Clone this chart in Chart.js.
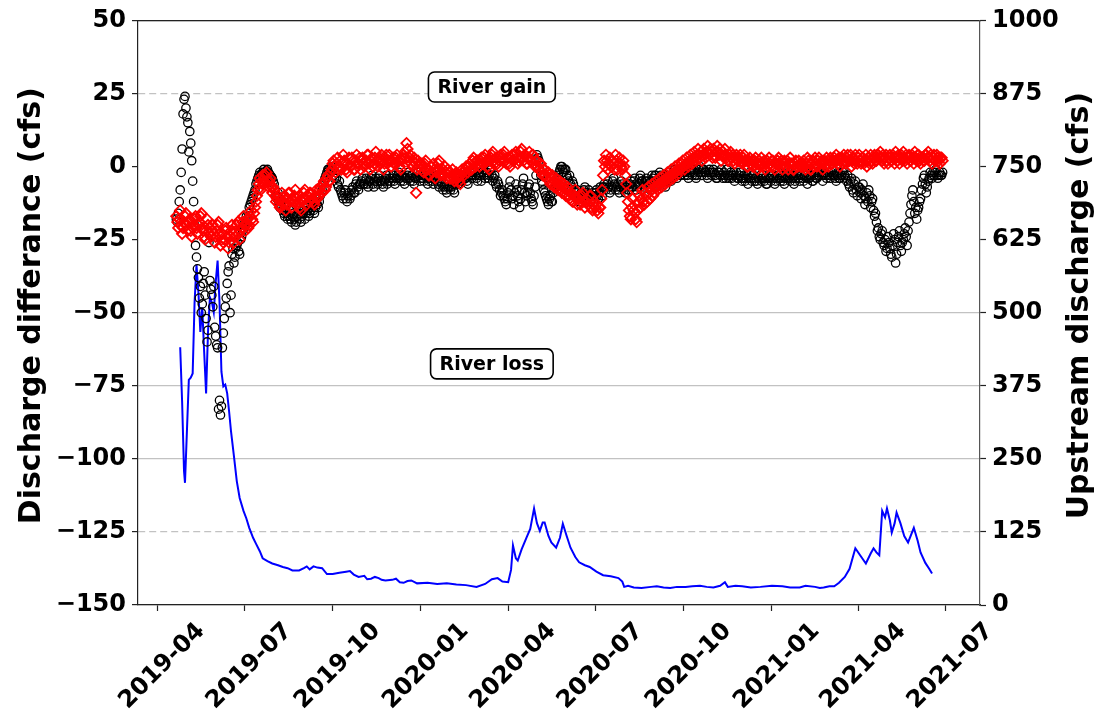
<!DOCTYPE html>
<html>
<head>
<meta charset="utf-8">
<script src="https://cdn.jsdelivr.net/npm/chart.js@4.4.1/dist/chart.umd.min.js"></script>
<style>
  html, body { margin: 0; padding: 0; background: #ffffff; }
  #wrap { width: 1099px; height: 712px; }
  canvas { display: block; }
</style>
</head>
<body>
<div id="wrap"><canvas id="c" width="1099" height="712"></canvas></div>
<script>
// Daily discharge difference (cfs), starting at markerStart
const markerStart = '2019-04-21';
const markerStepDays = 1;

// Discharge difference, black circles
const dischargeDiffBlack = [
  -18,-19,-16,-12,-8,-2,6,18,23,24,20,17,15,5,12,8,2,-5,-12,-20,
  -27,-31,-35,-38,-45,-41,-50,-47,-40,-36,-44,-52,-60,-56,-26,-39,-42,-44,-48,-41,
  -55,-58,-61,-62,-83,-80,-85,-82,-62,-57,-52,-48,-45,-40,-36,-34,-50,-44,-30,-28,
  -33,-31,-28,-27,-26,-29,-30,-25,-24,-22,-20,-21,-19,-17,-18,-16,-14,-13,-12,-11,
  -10,-9,-8,-6,-5,-4,-3,-2,-3,-2.5,-2,-1,-2,-2,-1.5,-1,-2,-2.5,-3,-3.5,
  -4,-5,
  -6,-8,-10,-11,-9,-12,-14,-13,-12,-15,-16,-17,-14,-16,-18,-17,-15,-18,
  -19,-17,-16,-18,-20,-19,-17,-16,-15,-18,-19,-17,-16,-15,-18,-16,-14,-15,-17,-16,
  -15,-14,-13,-15,-16,-14,-12,-13,-14,-12,-10,-9,-8,-6,-5,-4,-3,-2,-1,-1,
  -2,-1,0,-1,
  -3,-4,-2,-4,-6,-7,-5,-8,-9,-10,-11,-9,-8,-11,-12,-10,-9,-11,-10,-8,-7,-9,-9,-6,-5,-7,-8,-6,-6,-5,-4,-6,
  -6,-5,-4,-6,-7,-5,-5,-4,-3,-6,-7,-5,-4,-5,-6,-4,-3,-5,-5,-6,-7,-5,-4,-3,-6,-5,-3,-4,-5,-4,
  -3,-5,-6,-4,-4,-3,-2,-4,-5,-3,-3,-5,-6,-4,-4,-3,-2,-4,-5,-3,-3,-5,-6,-4,-4,-2,-2,-3,-5,-4,
  -3,-4,-5,-3,-2,-4,-6,-5,-4,-3,-3,-5,-6,-4,-2,-3,-5,-6,-7,-5,-4,-6,-8,-7,-6,-8,-9,-7,-5,-7,
  -8,-7,-6,-8,-9,-6,-4,-5,-6,-4,-3,-5,-5,-3,-2,-4,-4,-5,-6,-3,-2,-3,-4,-2,-1,-2,-3,-4,-5,-3,
  -2,-3,-5,-2,-1,-3,-4,-2,-2,-4,-3,-1,-1,-3,-5,-4,-3,-6,-7,-5,-6,-8,-10,-9,-8,-10,-11,-12,-13,-11,
  -9,-7,-5,-8,-11,-10,-13,-9,-6,-8,-10,-12,-14,-11,-8,-6,-4,-9,-12,-10,-9,-7,-6,-9,-11,-12,-13,-10,-7,-3,
  4,3,2,-1,-3,-5,-6,-8,-9,-10,-11,-12,-13,-11,-10,-12,-12,-9,-8,-7,-6,-4,-3,-2,-1,0,0,-1,-2,-1,-1,-3,
  -4,-5,-3,-6,-7,-5,-6,-8,-10,-9,-8,-11,-12,-10,-9,-11,-11,-8,-7,-9,-10,-9,-8,-10,-12,-11,-9,-10,-11,-9,
  -8,-10,-11,-9,-7,-8,-10,-7,-6,-7,-8,-6,-5,-7,-9,-8,-7,-5,-4,-6,-8,-7,-6,-8,-9,-7,-5,-6,-7,-8,
  -9,-7,-6,-8,-8,-6,-5,-7,-7,-5,-4,-6,-8,-7,-6,-4,-3,-5,-5,-6,-7,-5,-4,-5,-6,-7,-8,-5,-3,-4,-5,-3,
  -3,-5,-6,-4,-2,-3,-5,-4,-4,-6,-7,-5,-3,-4,-2,-4,-5,-3,-3,-2,-1,-3,-4,-2,-2,-3,-3,-1,-1,-2,
  -3,-2,-1,-3,-4,-2,-2,-1,-3,-2,-1,-3,-4,-3,-2,-1,0,-2,-3,-1,-1,-2,-2,-3,-4,-2,-1,-2,-3,-2,
  -1,-2,-3,-4,-4,-2,-2,-3,-1,-3,-4,-2,-3,-4,-1,-3,-4,-3,-2,-4,-3,-2,-5,-3,-2,-4,-4,-3,-2,-4,
  -5,-4,-3,-5,-4,-3,-6,-4,-2,-4,-5,-3,-3,-5,-4,-5,-6,-4,-2,-3,-5,-4,-3,-5,-4,-6,-6,-4,-3,-4,-5,-3,
  -3,-4,-6,-5,-4,-3,-2,-4,-5,-4,-3,-5,-6,-4,-4,-3,-2,-4,-5,-3,-3,-4,-6,-5,-4,-3,-2,-4,-5,-3,
  -3,-4,-5,-3,-2,-4,-6,-4,-4,-3,-3,-5,-5,-3,-2,-4,-4,-2,-3,-2,-1,-3,-5,-3,-2,-3,-4,-3,
  -2,-3,-4,-2,-1,-3,-3,-4,-5,-3,-2,-4,-4,-3,-3,-2,-1,-3,-4,-5,-3,-6,-7,-5,-4,-8,-9,-6,-5,-8,-10,-7,
  -7,-9,-11,-8,-6,-10,-13,-11,-9,-12,-8,-10,-14,-12,-11,-15,-17,-16,-19,-22,-21,-24,-25,-23,-22,-26,-27,-25,-29,-28,
  -24,-26,-28,-30,-31,-27,-23,-25,-33,-30,-26,-24,-22,-27,-29,-26,-25,-23,-21,-24,-27,-22,-19,-16,-13,-10,-8,-12,-16,-14,-18,-15,
  -14,-12,-11,-8,-6,-4,-3,-6,-9,-7,-5,-4,-2,-3,-4,-2,-3,-2,-1,-3,-4,-3,-2,-3,-3,-2
];

// Discharge difference, red diamonds
const dischargeDiffRed = [
  -17,-19,-21,-18,-15,-20,-23,-21,-19,-17,-16,-20,-22,-19,-18,-22,-24,-21,-20,-18,
  -17,-21,-23,-20,-19,-17,-16,-21,-22,-24,-25,-22,-18,-20,-21,-23,-24,-22,-20,-23,
  -26,-24,-22,-20,-19,-23,-27,-25,-23,-26,-25,-22,-21,-24,-28,-26,-24,-22,-20,-23,
  -26,-24,-22,-20,-19,-23,-25,-22,-21,-19,-17,-20,
  -22,-20,-18,-21,-20,-17,-15,-18,-19,-16,-14,-12,-10,-8,-6,-4,-8,-5,-3,-6,-5,-3,-2,-5,-7,-5,-4,-7,-9,-7,
  -8,-10,-12,-11,-10,-13,-14,-11,-9,-12,-13,-10,-15,-13,-11,-9,-9,-12,-14,-11,
  -12,-10,-8,-11,-13,-12,-10,-14,-15,-12,-11,-9,-8,-11,-13,-10,-12,-9,-9,-11,
  -11,-12,-13,-10,-8,-11,-10,-8,-7,-9,-9,-6,-5,-8,-7,-4,-3,-5,-5,-2,
  -1,1,2,0,-2,1,3,-1,0,2,-1,1,4,2,1,-1,-2,1,3,0,0,3,2,-1,-1,2,4,1,1,3,-1,2,
  3,1,0,2,2,4,4,1,-1,2,3,0,1,3,5,2,0,3,2,1,4,2,-1,1,3,4,1,2,4,2,
  0,2,3,1,1,3,4,2,2,0,-1,2,3,4,5,3,8,6,2,3,4,1,0,2,3,1,-9,-1,2,0,1,-1,
  1,0,-2,1,2,-1,-1,-3,-3,0,0,-2,1,-1,-4,-2,-1,1,2,-1,-3,-2,-1,-3,0,-2,-4,-1,-2,-4,
  -4,-3,-1,-4,-5,-3,-2,-4,-3,-5,-6,-3,-1,-2,-3,-1,0,-2,-2,0,1,-1,-1,2,3,1,0,2,2,1,
  0,2,3,1,1,3,4,2,2,0,-1,2,3,4,5,2,1,3,3,1,0,2,4,3,2,4,5,2,1,3,
  3,1,0,3,4,2,2,4,5,3,1,2,3,5,6,3,2,4,4,1,1,3,5,2,2,4,4,1,0,2,
  2,0,-1,1,1,-2,-3,-1,-1,-3,-4,-2,-2,-5,-6,-4,-3,-6,-7,-5,-4,-7,-8,-6,-5,-8,-9,-7,-6,-9,-10,-8,
  -7,-10,-11,-9,-9,-12,-12,-10,-8,-11,-13,-11,-10,-13,-12,-10,-9,-12,-14,-12,-11,-13,-13,-10,-10,-14,-15,-13,-12,-14,
  -13,-15,-16,-14,-14,-11,-8,-3,2,0,4,2,-1,1,3,0,0,2,1,-1,4,2,-1,1,3,1,0,-1,2,0,
  -3,-6,-9,-12,-15,-17,-18,-14,-11,-15,-16,-18,-19,-15,-12,-10,-14,-11,-8,-12,-13,-9,-10,-12,-7,-9,-11,-8,-6,-10,-9,-7,
  -5,-7,-8,-6,-4,-6,-7,-5,-3,-5,-6,-4,-2,-4,-5,-3,-1,-3,-4,-2,0,-2,-3,-1,1,-1,-1,1,2,0,
  -1,1,3,1,0,2,4,2,1,3,5,3,2,4,6,4,3,5,2,4,6,4,3,5,7,5,4,6,5,3,
  6,4,3,5,7,5,4,6,2,4,5,3,6,4,3,2,2,4,5,3,4,2,1,3,4,2,2,3,4,2,
  1,3,4,2,2,0,0,2,3,1,2,0,0,2,3,1,-1,1,2,0,3,1,0,2,-1,1,2,0,3,1,0,2,
  2,0,-1,1,1,2,3,1,0,2,-1,1,2,0,0,2,-1,1,3,1,1,-1,-1,1,2,0,0,2,1,0,
  0,1,2,0,-1,1,3,2,1,-1,-1,1,2,0,3,1,0,2,3,1,1,2,-1,1,2,0,3,1,
  0,2,3,1,1,2,3,2,4,2,1,3,0,2,3,1,4,2,1,3,4,2,2,4,0,2,3,1,4,2,1,3,
  4,2,1,3,3,1,2,4,0,2,3,1,4,2,1,3,4,2,2,4,4,3,5,3,2,4,1,3,4,2,
  1,3,4,2,2,4,3,1,5,3,2,4,1,3,4,2,5,3,2,4,1,3,4,2,2,4,3,1,5,3,2,4,
  4,2,1,3,3,2,2,4,4,3,5,3,2,4,1,3,4,2,2,4,3,2,1,3,3,2
];

// Upstream discharge (cfs), blue line on the right axis
const upstreamDates = [
  '2019-04-25','2019-04-27','2019-04-29','2019-04-30','2019-05-02','2019-05-04','2019-05-06','2019-05-08',
  '2019-05-10','2019-05-12','2019-05-14','2019-05-16','2019-05-18','2019-05-20','2019-05-22','2019-05-24',
  '2019-05-26','2019-05-28','2019-05-30','2019-06-01','2019-06-03','2019-06-05','2019-06-07','2019-06-09',
  '2019-06-11','2019-06-13','2019-06-15','2019-06-17','2019-06-20','2019-06-23','2019-06-26','2019-06-30',
  '2019-07-03','2019-07-06','2019-07-10','2019-07-13','2019-07-17','2019-07-20','2019-07-25','2019-07-30',
  '2019-08-05','2019-08-10','2019-08-15','2019-08-20','2019-08-27','2019-09-01','2019-09-04','2019-09-07',
  '2019-09-11','2019-09-15','2019-09-20','2019-09-25','2019-10-01','2019-10-08','2019-10-15','2019-10-19',
  '2019-10-23','2019-10-28','2019-11-03','2019-11-06','2019-11-10','2019-11-14','2019-11-18','2019-11-21',
  '2019-11-25','2019-12-02','2019-12-06','2019-12-10','2019-12-14','2019-12-18','2019-12-22','2019-12-28',
  '2020-01-08','2020-01-18','2020-01-28','2020-02-07','2020-02-17','2020-02-28',
  '2020-03-08','2020-03-15','2020-03-21','2020-03-26','2020-04-01','2020-04-04','2020-04-06','2020-04-09',
  '2020-04-11','2020-04-15','2020-04-20','2020-04-24','2020-04-28','2020-05-01','2020-05-04','2020-05-07',
  '2020-05-09','2020-05-13','2020-05-16','2020-05-21','2020-05-25','2020-05-28','2020-06-01','2020-06-05',
  '2020-06-10','2020-06-14','2020-06-20','2020-06-25','2020-07-02','2020-07-09','2020-07-17','2020-07-25',
  '2020-07-29','2020-07-31','2020-08-04','2020-08-10','2020-08-18','2020-08-28','2020-09-03','2020-09-10',
  '2020-09-17','2020-09-24','2020-10-03','2020-10-10','2020-10-18','2020-10-25','2020-11-01','2020-11-08',
  '2020-11-13','2020-11-16','2020-11-24','2020-12-01','2020-12-10','2020-12-20','2021-01-01','2021-01-12',
  '2021-01-20','2021-01-30','2021-02-05','2021-02-15','2021-02-20','2021-02-24','2021-03-02','2021-03-07',
  '2021-03-12','2021-03-18','2021-03-23','2021-03-29','2021-04-03','2021-04-09',
  '2021-04-14','2021-04-17','2021-04-20','2021-04-23','2021-04-26','2021-04-29','2021-05-01','2021-05-04',
  '2021-05-06','2021-05-09','2021-05-11','2021-05-15','2021-05-19','2021-05-23','2021-05-29','2021-06-02',
  '2021-06-05','2021-06-10','2021-06-14','2021-06-17'
];
const upstreamCfs = [
  441,348,229,209,297,385,389,396,
  518,582,535,467,509,433,362,467,
  526,518,501,552,589,518,399,374,
  377,362,331,297,255,212,183,161,
  148,132,115,105,92,80,75,71,
  68,65,63,59,59,63,66,61,
  66,64,63,53,53,55,57,58,
  52,48,50,44,45,48,46,43,
  42,43,45,39,38,41,42,37,
  38,36,37,35,34,31,
  36,44,46,40,39,60,102,80,
  76,95,115,130,165,140,127,141,
  141,118,107,98,115,139,118,98,
  82,73,68,65,57,51,49,46,
  40,31,33,30,29,31,32,30,
  29,31,31,32,33,31,30,33,
  39,31,33,32,30,31,33,32,
  30,30,33,31,29,30,32,32,
  38,48,62,97,85,71,
  88,97,90,85,161,150,165,145,
  124,140,158,140,118,107,132,110,
  90,72,62,54
];

// Axis ticks and labels
const quarterTicks = ['2019-04','2019-07','2019-10','2020-01','2020-04','2020-07','2020-10','2021-01','2021-04','2021-07'];
const leftTicks = [-150,-125,-100,-75,-50,-25,0,25,50];
const rightTicks = [0,125,250,375,500,625,750,875,1000];
const dashedLeftTicks = [-125,25];
const hiddenGridTicks = [-25,0];
const axisRange = { xStart: '2019-03-12', xEnd: '2021-08-06', leftMin: -150, leftMax: 50, rightMin: 0, rightMax: 1000 };
const leftTitle = 'Discharge differance (cfs)';
const rightTitle = 'Upstream discharge (cfs)';

// Boxed notes, placed in data coordinates
const noteLabels = ['River gain', 'River loss'];
const noteDates = ['2020-03-15', '2020-03-15'];
const noteValues = [27.2, -67.5];

const DAY = 86400000;
const toMs = s => { const p = s.split('-').map(Number); return Date.UTC(p[0], p[1] - 1, p[2] || 1); };
const startMs = toMs(markerStart);

const blackPts = dischargeDiffBlack.map((v, i) => ({ x: startMs + i * markerStepDays * DAY, y: v }));
const redPts = dischargeDiffRed.map((v, i) => ({ x: startMs + i * markerStepDays * DAY, y: v }));
const bluePts = upstreamDates.map((d, i) => ({ x: toMs(d), y: upstreamCfs[i] }));

const FONT = '"DejaVu Sans", "Liberation Sans", sans-serif';
const tickFont = { family: FONT, weight: 'bold', size: 24 };

const decor = {
  id: 'decor',
  afterDraw(chart) {
    const { ctx, chartArea, scales } = chart;
    const cy = (chartArea.top + chartArea.bottom) / 2;
    ctx.save();
    ctx.fillStyle = '#000';
    ctx.font = 'bold 30px ' + FONT;
    ctx.textAlign = 'center';
    ctx.textBaseline = 'middle';
    // left axis title
    ctx.save();
    ctx.translate(32, cy - 7);
    ctx.rotate(-Math.PI / 2);
    ctx.fillText(leftTitle, 0, 0);
    ctx.restore();
    // right axis title, reading bottom to top
    ctx.save();
    ctx.translate(1080, cy - 7);
    ctx.rotate(-Math.PI / 2);
    ctx.fillText(rightTitle, 0, 0);
    ctx.restore();

    // boxed notes
    ctx.font = 'bold 19px ' + FONT;
    noteLabels.forEach((txt, i) => {
      const px = scales.x.getPixelForValue(toMs(noteDates[i]));
      const py = scales.y.getPixelForValue(noteValues[i]);
      const w = ctx.measureText(txt).width + 18;
      const h = 30;
      ctx.beginPath();
      ctx.roundRect(px - w / 2, py - h / 2, w, h, 6);
      ctx.fillStyle = '#ffffff';
      ctx.fill();
      ctx.lineWidth = 1.6;
      ctx.strokeStyle = '#000';
      ctx.stroke();
      ctx.fillStyle = '#000';
      ctx.fillText(txt, px, py + 1);
    });
    ctx.restore();
  }
};

new Chart(document.getElementById('c'), {
  type: 'scatter',
  data: {
    datasets: [
      {
        label: 'Difference (adjusted)',
        data: redPts,
        yAxisID: 'y',
        pointStyle: 'rectRot',
        pointRadius: 5.2,
        pointBorderWidth: 1.8,
        pointBorderColor: '#ff0000',
        pointBackgroundColor: 'rgba(0,0,0,0)',
        showLine: false
      },
      {
        label: 'Difference',
        data: blackPts,
        yAxisID: 'y',
        pointStyle: 'circle',
        pointRadius: 4.2,
        pointBorderWidth: 1.3,
        pointBorderColor: '#000000',
        pointBackgroundColor: 'rgba(0,0,0,0)',
        showLine: false
      },
      {
        label: 'Upstream discharge',
        data: bluePts,
        yAxisID: 'y2',
        showLine: true,
        borderColor: '#0000ff',
        borderWidth: 2,
        pointRadius: 0,
        tension: 0
      }
    ]
  },
  options: {
    responsive: false,
    animation: false,
    events: [],
    devicePixelRatio: 1,
    layout: { padding: { top: 16, left: 0, right: 0, bottom: 0 } },
    plugins: { legend: { display: false }, tooltip: { enabled: false } },
    scales: {
      x: {
        type: 'linear',
        position: 'bottom',
        min: toMs(axisRange.xStart),
        max: toMs(axisRange.xEnd),
        afterBuildTicks: s => { s.ticks = quarterTicks.map(q => ({ value: toMs(q + '-01') })); },
        afterFit: s => { s.height = 107; },
        ticks: {
          autoSkip: false,
          minRotation: 45,
          maxRotation: 45,
          labelOffset: 44,
          padding: 6,
          color: '#000',
          font: tickFont,
          callback: (v, i) => quarterTicks[i]
        },
        grid: { drawOnChartArea: false, drawTicks: true, tickLength: 6, tickColor: '#222', tickWidth: 1.2 },
        border: { display: true, color: '#222', width: 1.2 }
      },
      xTop: {
        type: 'linear',
        position: 'top',
        min: toMs(axisRange.xStart),
        max: toMs(axisRange.xEnd),
        afterFit: s => { s.height = 0; },
        ticks: { display: false },
        grid: { display: true, drawOnChartArea: false, drawTicks: false },
        border: { display: true, color: '#222', width: 1.2 }
      },
      y: {
        position: 'left',
        min: axisRange.leftMin,
        max: axisRange.leftMax,
        afterBuildTicks: s => { s.ticks = leftTicks.map(v => ({ value: v })); },
        afterFit: s => { s.width = 138; },
        ticks: {
          color: '#000',
          font: tickFont,
          padding: 6,
          callback: v => String(v).replace('-', '\u2212')
        },
        grid: {
          color: ctx => (ctx.tick && hiddenGridTicks.includes(ctx.tick.value)) ? 'rgba(0,0,0,0)' : '#c2c2c2',
          lineWidth: 1.2,
          drawTicks: true,
          tickLength: 6,
          tickColor: '#222',
          tickWidth: 1.2
        },
        border: {
          display: true,
          color: '#222',
          width: 1.2,
          dash: ctx => (ctx.tick && dashedLeftTicks.includes(ctx.tick.value)) ? [7, 4] : []
        }
      },
      y2: {
        position: 'right',
        min: axisRange.rightMin,
        max: axisRange.rightMax,
        afterBuildTicks: s => { s.ticks = rightTicks.map(v => ({ value: v })); },
        afterFit: s => { s.width = 119; },
        ticks: { color: '#000', font: tickFont, padding: 6, callback: v => String(v) },
        grid: { drawOnChartArea: false, drawTicks: true, tickLength: 6, tickColor: '#222', tickWidth: 1.2 },
        border: { display: true, color: '#555', width: 1.2 }
      }
    }
  },
  plugins: [decor]
});
</script>
</body>
</html>
